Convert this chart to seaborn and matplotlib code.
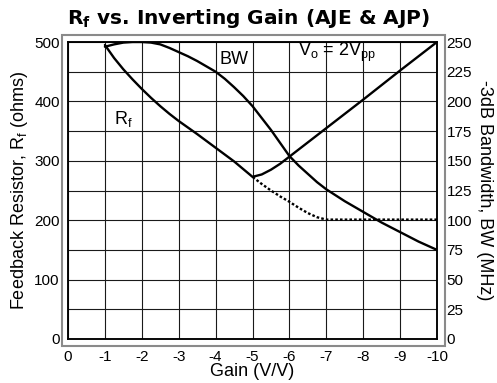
import matplotlib
matplotlib.use("Agg")
import matplotlib.pyplot as plt
from matplotlib.patches import Rectangle
import seaborn as sns

# Feedback resistor vs. inverting gain (ohms)
rf_gain = [-1, -1.25, -1.5, -1.75, -2, -2.25, -2.5, -2.75, -3, -3.5, -4, -4.5, -4.75, -5,
           -5.25, -5.5, -5.75, -6, -6.5, -7, -8, -9, -10]
rf_ohms = [495, 473, 454, 437, 421, 406, 392, 379, 367, 345, 322, 299, 286, 273,
           277, 285, 295, 307, 331, 355, 403, 452, 500]

# Alternate Rf path beyond G = -5 (dotted)
rf_alt_gain = [-5, -5.25, -5.5, -5.75, -6, -6.25, -6.5, -6.75, -7, -8, -9, -10]
rf_alt_ohms = [273, 261, 250, 240, 231, 221, 212, 205, 201, 201, 201, 201]

# -3dB bandwidth vs. inverting gain (MHz)
bw_gain = [-1, -1.25, -1.5, -1.75, -2, -2.25, -2.5, -2.75, -3, -3.25, -3.5, -3.75, -4, -4.25,
           -4.5, -4.75, -5, -5.25, -5.5, -5.75, -6, -6.25, -6.5, -6.75, -7, -7.5, -8, -8.5,
           -9, -9.5, -10]
bw_mhz = [246, 248, 249.5, 250, 250, 249.5, 248, 245, 241.5, 238, 234, 229.5, 225, 219,
          212, 204.5, 196, 186, 176, 165, 154, 146, 139, 132, 126, 116, 107, 98,
          90, 82, 75]

x_ticks = [0, -1, -2, -3, -4, -5, -6, -7, -8, -9, -10]
x_tick_labels = ["0", "-1", "-2", "-3", "-4", "-5", "-6", "-7", "-8", "-9", "-10"]
left_ticks = [0, 100, 200, 300, 400, 500]
right_ticks = [0, 25, 50, 75, 100, 125, 150, 175, 200, 225, 250]

sns.set_theme(style="white")
plt.rcParams["font.family"] = ["Liberation Sans", "DejaVu Sans"]
plt.rcParams["axes.unicode_minus"] = False

fig = plt.figure(figsize=(4.97, 3.83), dpi=100)
ax = fig.add_axes([68 / 497, 1 - 339 / 383, (437 - 68) / 497, (339 - 42) / 383])
ax2 = ax.twinx()

# outer gray frame around the plotting area
fig.patches.append(Rectangle((62 / 497, 1 - 346 / 383), (445 - 62) / 497, (346 - 35) / 383,
                             transform=fig.transFigure, fill=False, edgecolor="#8a8a8a",
                             linewidth=1.5, zorder=0))

lw = 1.7
sns.lineplot(x=rf_gain, y=rf_ohms, ax=ax, color="black", linewidth=lw)
sns.lineplot(x=rf_alt_gain, y=rf_alt_ohms, ax=ax, color="black", linewidth=1.7,
             linestyle=(0, (1.1, 0.9)))
sns.lineplot(x=bw_gain, y=bw_mhz, ax=ax2, color="black", linewidth=lw)
for line in ax.lines + ax2.lines:
    line.set_solid_joinstyle("round")

ax.set_xlim(0, -10)
ax.set_ylim(0, 500)
ax2.set_ylim(0, 250)

ax.set_xticks(x_ticks)
ax.set_xticklabels(x_tick_labels)
ax.set_yticks(left_ticks)
ax.set_yticks(list(range(50, 500, 100)), minor=True)
ax2.set_yticks(right_ticks)

ax.grid(True, which="both", axis="both", color="#1a1a1a", linewidth=0.8)
ax2.grid(False)
ax.set_axisbelow(True)

ax.tick_params(axis="both", which="both", length=0)
ax.tick_params(axis="x", pad=8)
ax.tick_params(axis="y", pad=6)
ax2.tick_params(axis="y", length=0, pad=7)
for lab in ax.get_xticklabels() + ax.get_yticklabels() + ax2.get_yticklabels():
    lab.set_fontsize(11)
    lab.set_color("black")

for a in (ax, ax2):
    for s in a.spines.values():
        s.set_color("black")
        s.set_linewidth(1.1)

ax.set_xlabel("Gain (V/V)", fontsize=13, labelpad=-1, color="black")
ax.set_ylabel(r"Feedback Resistor, R$_\mathregular{f}$ (ohms)", fontsize=13, labelpad=3, color="black")
ax2.set_ylabel("-3dB Bandwidth, BW (MHz)", fontsize=13, rotation=270, labelpad=15, color="black")

fig.text(0.5, 1 - 19 / 383, r"R$_\mathregular{f}$ vs. Inverting Gain (AJE & AJP)",
         ha="center", va="center", fontsize=14.5, fontweight="bold",
         family=["DejaVu Sans"], color="black")

ax.text(-4.5, 470, "BW", fontsize=13, ha="center", va="center", color="black")
ax.text(-1.5, 371, r"R$_\mathregular{f}$", fontsize=13, ha="center", va="center", color="black")
ax.text(-7.3, 483, r"V$_\mathregular{o}$ = 2V$_\mathregular{pp}$", fontsize=13, ha="center",
        va="center", color="black")

fig.savefig("out.png", dpi=100)
